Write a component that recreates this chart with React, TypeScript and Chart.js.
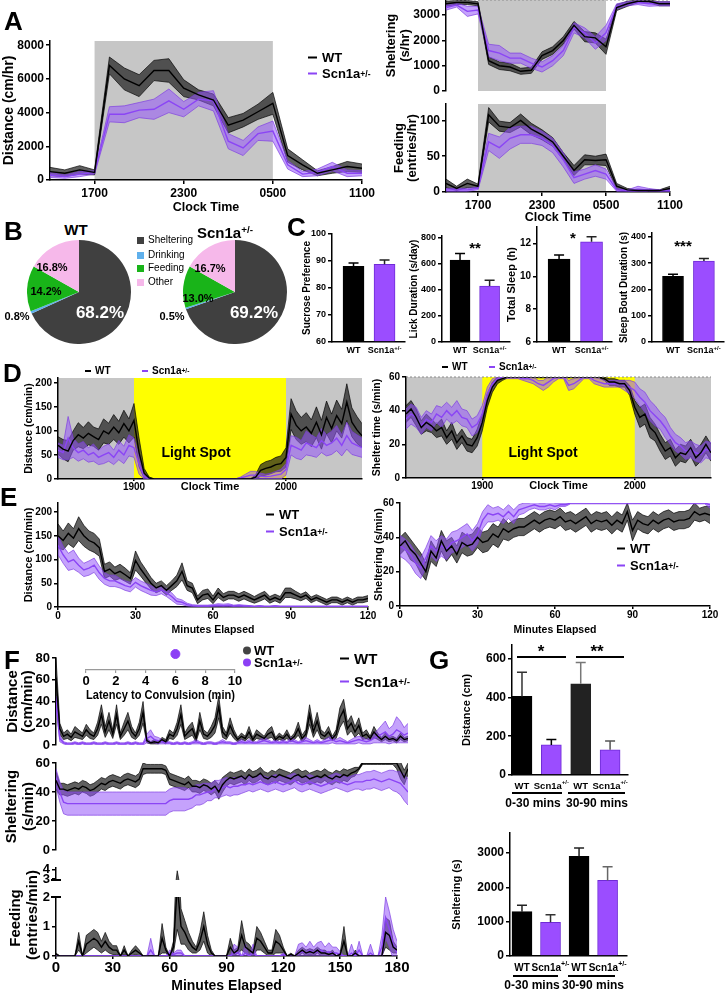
import React, { useEffect, useRef } from 'react';
import { Chart, registerables } from 'chart.js';

Chart.register(...registerables);

const FF = "'Liberation Sans', Arial, Helvetica, sans-serif";

// ================= DATA =================
// Panel A (hourly, clock hour 14 = 1400 ... 35 = 1100 next day)
const clockHours = [14, 15, 16, 17, 18, 19, 20, 21, 22, 23, 24, 25, 26, 27, 28, 29, 30, 31, 32, 33, 34, 35];
const clockTicks = [17, 23, 29, 35];
const clockLabels = ['1700', '2300', '0500', '1100'];
const darkPhase = [17, 29];
const distWT = [500, 400, 600, 450, 6800, 6000, 5600, 6500, 6500, 5450, 5050, 4750, 3250, 3550, 4050, 4550, 1450, 900, 400, 600, 800, 700];
const distWTSem = [250, 200, 250, 150, 500, 650, 650, 600, 700, 500, 300, 350, 450, 400, 450, 650, 400, 300, 150, 200, 300, 250];
const distScn = [300, 200, 350, 450, 3900, 3900, 4150, 4200, 4700, 4200, 4800, 4700, 2300, 1900, 2750, 2900, 900, 350, 450, 800, 400, 400];
const distScnSem = [150, 100, 150, 100, 450, 500, 450, 600, 700, 450, 400, 600, 450, 450, 400, 600, 250, 150, 200, 250, 200, 150];
const shWT = [3450, 3500, 3500, 3450, 1200, 1000, 950, 780, 820, 1400, 1600, 2000, 2600, 2150, 2100, 1750, 3300, 3450, 3550, 3550, 3450, 3450];
const shWTSem = [100, 80, 80, 80, 150, 150, 150, 120, 120, 150, 150, 150, 150, 200, 200, 300, 120, 100, 60, 60, 80, 80];
const shScn = [3300, 3400, 3150, 3200, 1600, 1500, 1300, 1300, 1100, 950, 1200, 1600, 2500, 2300, 1900, 2300, 3350, 3450, 3500, 3450, 3450, 3450];
const shScnSem = [100, 80, 200, 150, 250, 300, 200, 200, 200, 200, 200, 200, 200, 200, 250, 300, 100, 80, 80, 100, 80, 80];
const feedWT = [12, 5, 12, 8, 108, 92, 90, 100, 88, 80, 70, 50, 30, 45, 44, 45, 8, 3, 2, 2, 2, 5];
const feedWTSem = [6, 3, 6, 3, 10, 7, 7, 9, 8, 7, 6, 5, 7, 7, 6, 8, 4, 2, 1, 1, 1, 3];
const feedScn = [3, 3, 3, 5, 70, 62, 75, 80, 80, 75, 65, 45, 20, 25, 30, 25, 3, 2, 4, 3, 2, 2];
const feedScnSem = [2, 2, 2, 2, 12, 15, 15, 12, 12, 10, 10, 10, 8, 7, 8, 7, 2, 1, 4, 2, 1, 1];

// Panel B
const pieCats = ['Sheltering', 'Drinking', 'Feeding', 'Other'];
const pieWT = [68.2, 0.8, 14.2, 16.8];
const pieScn = [69.2, 0.5, 13.0, 16.7];
const pieColors = ['#404040', '#5fb0ec', '#19b419', '#f6b8ea'];

// Panel C
const groups2 = ['WT', 'Scn1a^+/-'];
const sucrose = [88, 88.8];
const sucroseSem = [1.3, 1.6];
const lick = [630, 430];
const lickSem = [50, 45];
const sleepH = [11.05, 12.1];
const sleepHSem = [0.25, 0.3];
const bout = [250, 308];
const boutSem = [8, 10];

// Panels D/E (minutes, 2-min bins)
const minD = Array.from({ length: 61 }, (_, i) => i * 2);
const lightSpot = [30, 90];
const dTicks = [30, 90];
const dLabels = ['1900', '2000'];
const dDistWT = [70, 62, 58, 80, 92, 85, 95, 88, 82, 100, 94, 108, 96, 115, 100, 122, 55, 12, 2, 0, 0, 0, 0, 0, 0, 0, 0, 0, 0, 0, 0, 0, 0, 0, 0, 0, 0, 0, 0, 4, 18, 22, 25, 30, 32, 45, 135, 112, 100, 108, 95, 118, 92, 128, 105, 132, 115, 160, 118, 102, 90];
const dDistWTSem = [18, 20, 22, 20, 25, 22, 24, 20, 22, 25, 22, 26, 24, 28, 25, 35, 30, 10, 2, 0, 0, 0, 0, 0, 0, 0, 0, 0, 0, 0, 0, 0, 0, 0, 0, 0, 0, 0, 0, 5, 12, 14, 14, 15, 16, 20, 32, 30, 28, 30, 28, 32, 30, 34, 30, 32, 30, 38, 30, 28, 25];
const dDistScn = [60, 55, 85, 65, 55, 60, 50, 55, 45, 50, 55, 45, 60, 50, 70, 65, 30, 5, 1, 0, 0, 0, 0, 0, 0, 0, 0, 0, 0, 0, 0, 0, 0, 0, 0, 0, 2, 5, 8, 8, 6, 5, 6, 8, 10, 20, 70, 65, 60, 75, 70, 65, 80, 70, 75, 85, 70, 90, 75, 70, 65];
const dDistScnSem = [15, 15, 45, 20, 18, 18, 15, 18, 15, 18, 18, 15, 20, 18, 22, 20, 20, 5, 1, 0, 0, 0, 0, 0, 0, 0, 0, 0, 0, 0, 0, 0, 0, 0, 0, 0, 2, 5, 8, 8, 6, 5, 6, 8, 10, 12, 20, 22, 20, 25, 22, 20, 25, 22, 24, 26, 22, 28, 24, 22, 20];
const dShWT = [38, 41, 36, 30, 33, 31, 28, 30, 24, 28, 21, 25, 20, 19, 24, 33, 46, 54, 58, 59, 60, 60, 60, 60, 60, 60, 60, 60, 60, 60, 60, 60, 60, 60, 60, 60, 60, 60, 60, 59, 57, 57, 56, 56, 52, 42, 36, 38, 30, 27, 21, 16, 18, 12, 15, 14, 18, 12, 15, 20, 15];
const dShWTSem = [5, 5, 5, 4, 5, 4, 4, 5, 4, 5, 4, 4, 4, 4, 5, 5, 4, 3, 2, 1, 0.5, 0.5, 0.5, 0.5, 0.5, 0.5, 0.5, 0.5, 0.5, 0.5, 0.5, 0.5, 0.5, 0.5, 0.5, 0.5, 0.5, 0.5, 0.5, 1, 2, 2, 2, 2, 3, 4, 6, 6, 6, 5, 5, 5, 5, 5, 5, 5, 5, 5, 5, 5, 5];
const dShScn = [35, 38, 36, 31, 35, 33, 38, 36, 40, 37, 40, 36, 35, 30, 32, 38, 50, 56, 59, 60, 60, 60, 60, 59, 59, 58, 56, 55, 57, 59, 60, 60, 55, 56, 58, 60, 60, 58, 57, 56, 56, 56, 56, 55, 54, 52, 48, 45, 40, 37, 34, 30, 25, 21, 19, 16, 17, 15, 14, 17, 16];
const dShScnSem = [6, 6, 6, 5, 5, 5, 5, 6, 5, 5, 6, 5, 5, 5, 5, 5, 4, 3, 1, 1, 1, 1, 1, 1, 2, 2, 2, 3, 3, 2, 1, 1, 3, 3, 2, 1, 1, 2, 2, 2, 2, 2, 2, 3, 4, 5, 5, 6, 6, 6, 5, 6, 5, 5, 5, 5, 5, 5, 5, 5, 5];

const eTicks = [0, 30, 60, 90, 120];
const eDistWT = [150, 140, 155, 145, 165, 150, 140, 135, 125, 75, 80, 70, 75, 68, 60, 98, 80, 65, 50, 40, 45, 35, 45, 55, 75, 45, 40, 15, 25, 28, 15, 30, 20, 25, 25, 20, 25, 20, 15, 20, 25, 15, 20, 15, 30, 30, 25, 20, 25, 15, 20, 15, 10, 15, 15, 10, 15, 10, 15, 15, 18];
const eDistWTSem = [25, 20, 22, 20, 25, 22, 20, 20, 18, 15, 15, 14, 15, 14, 12, 20, 15, 14, 12, 10, 10, 10, 10, 12, 18, 10, 10, 8, 10, 10, 8, 10, 8, 8, 8, 8, 8, 8, 7, 8, 8, 7, 7, 7, 10, 10, 8, 7, 7, 6, 6, 6, 6, 6, 6, 6, 6, 6, 6, 6, 6];
const eDistScn = [130, 110, 95, 100, 88, 78, 82, 88, 72, 60, 55, 55, 50, 45, 42, 52, 45, 40, 35, 32, 36, 30, 22, 12, 10, 5, 3, 2, 2, 2, 3, 4, 3, 4, 2, 3, 2, 2, 1, 2, 1, 1, 2, 1, 1, 1, 1, 1, 1, 1, 1, 1, 1, 1, 1, 1, 1, 1, 1, 1, 1];
const eDistScnSem = [20, 18, 18, 20, 15, 14, 15, 15, 14, 12, 12, 12, 10, 10, 10, 10, 10, 10, 10, 8, 8, 8, 8, 6, 5, 3, 2, 2, 2, 2, 2, 3, 3, 3, 2, 2, 2, 1, 1, 1, 1, 1, 1, 1, 1, 1, 1, 1, 1, 1, 1, 1, 1, 1, 1, 1, 1, 1, 1, 1, 1];
const eShWT = [35, 38, 33, 30, 25, 20, 32, 28, 38, 32, 35, 30, 37, 35, 36, 40, 37, 38, 42, 40, 45, 43, 45, 46, 46, 48, 50, 48, 50, 51, 50, 52, 49, 50, 48, 50, 52, 48, 50, 49, 50, 47, 50, 48, 55, 44, 50, 48, 47, 50, 48, 50, 51, 49, 50, 50, 51, 55, 53, 54, 53];
const eShWTSem = [5, 5, 6, 5, 6, 5, 6, 5, 6, 6, 5, 5, 6, 6, 6, 6, 6, 6, 6, 6, 6, 5, 5, 5, 5, 5, 5, 5, 5, 5, 5, 5, 5, 5, 5, 5, 5, 5, 5, 5, 5, 5, 5, 5, 5, 6, 5, 5, 5, 5, 5, 5, 5, 5, 5, 5, 5, 5, 4, 4, 5];
const eShScn = [35, 33, 30, 25, 22, 28, 35, 32, 35, 33, 37, 38, 40, 42, 38, 42, 50, 54, 53, 54, 52, 55, 52, 56, 57, 58, 59, 58, 58, 59, 58, 59, 59, 60, 60, 60, 60, 60, 60, 60, 60, 60, 60, 60, 60, 60, 60, 60, 60, 60, 60, 60, 60, 60, 60, 60, 60, 60, 60, 60, 59];
const eShScnSem = [6, 6, 6, 6, 6, 6, 6, 6, 6, 6, 6, 6, 6, 6, 6, 6, 5, 5, 4, 4, 4, 4, 4, 3, 3, 2, 2, 2, 2, 2, 2, 1, 1, 0.5, 0.5, 0.5, 0.5, 0.5, 0.5, 0.5, 0.5, 0.5, 0.5, 0.5, 0.5, 0.5, 0.5, 0.5, 0.5, 0.5, 0.5, 0.5, 0.5, 0.5, 0.5, 0.5, 0.5, 0.5, 0.5, 0.5, 2];

// Panel F (minutes, 2-min bins)
const minF = Array.from({ length: 94 }, (_, i) => i * 2);
const minFeed = Array.from({ length: 91 }, (_, i) => i * 2);
const fTicks = [0, 30, 60, 90, 120, 150, 180];
const fDistWT = [62, 15, 8, 10, 7, 12, 10, 8, 14, 10, 8, 15, 28, 12, 22, 10, 28, 8, 15, 22, 12, 8, 15, 30, 4, 2, 3, 2, 5, 3, 10, 8, 15, 28, 8, 12, 15, 6, 22, 10, 8, 12, 18, 35, 12, 8, 18, 10, 5, 8, 6, 12, 5, 10, 8, 6, 10, 12, 5, 8, 6, 10, 5, 8, 15, 6, 10, 28, 12, 22, 10, 8, 12, 6, 10, 25, 32, 15, 20, 12, 18, 8, 10, 6, 12, 8, 5, 8, 5, 6, 4, 8, 5, 6];
const fDistWTSem = [18, 5, 3, 4, 3, 5, 4, 3, 5, 4, 3, 6, 9, 5, 8, 4, 9, 3, 6, 8, 5, 3, 6, 10, 2, 1, 2, 1, 2, 2, 4, 3, 6, 9, 3, 5, 6, 3, 8, 4, 3, 5, 7, 10, 5, 3, 7, 4, 2, 3, 2, 5, 2, 4, 3, 2, 4, 5, 2, 3, 2, 4, 2, 3, 6, 3, 4, 9, 5, 8, 4, 3, 5, 2, 4, 9, 10, 6, 7, 5, 7, 3, 4, 2, 5, 3, 2, 3, 2, 2, 2, 3, 2, 2];
const fDistScn = [40, 6, 2, 1, 1, 2, 1, 2, 1, 1, 2, 1, 1, 2, 1, 1, 2, 1, 1, 2, 1, 2, 1, 1, 6, 8, 5, 4, 3, 2, 2, 1, 2, 1, 2, 1, 2, 3, 2, 1, 2, 2, 1, 2, 3, 2, 2, 1, 2, 3, 2, 3, 2, 2, 3, 4, 3, 2, 3, 2, 3, 2, 4, 3, 2, 3, 4, 3, 2, 3, 2, 3, 4, 5, 3, 4, 3, 2, 3, 4, 5, 4, 3, 4, 6, 8, 10, 12, 8, 10, 14, 12, 9, 11];
const fDistScnSem = [5, 3, 1, 1, 1, 1, 1, 1, 1, 1, 1, 1, 1, 1, 1, 1, 1, 1, 1, 1, 1, 1, 1, 1, 4, 6, 3, 3, 2, 1, 1, 1, 1, 1, 1, 1, 1, 2, 1, 1, 1, 1, 1, 1, 2, 1, 1, 1, 1, 2, 1, 2, 1, 1, 2, 3, 2, 1, 2, 1, 2, 1, 3, 2, 1, 2, 3, 2, 1, 2, 1, 2, 3, 3, 2, 3, 2, 1, 2, 3, 3, 3, 2, 3, 4, 6, 8, 10, 7, 8, 12, 10, 7, 9];
const fShWT = [48, 42, 42, 41, 42, 43, 42, 44, 43, 41, 42, 44, 46, 45, 47, 48, 47, 46, 48, 49, 48, 47, 49, 56, 56, 56, 56, 56, 56, 55, 49, 48, 47, 46, 45, 47, 44, 44, 43, 45, 44, 42, 44, 40, 45, 48, 50, 49, 50, 51, 49, 52, 50, 51, 53, 50, 49, 51, 50, 52, 51, 50, 49, 51, 52, 50, 51, 49, 50, 51, 50, 52, 50, 49, 51, 50, 52, 51, 53, 54, 56, 60, 60, 60, 60, 60, 60, 60, 60, 60, 60, 55, 50, 56];
const fShWTSem = [6, 4, 4, 4, 4, 4, 4, 4, 4, 4, 4, 4, 4, 4, 4, 4, 4, 4, 4, 4, 4, 4, 4, 4, 3, 3, 3, 3, 3, 3, 4, 4, 4, 4, 4, 4, 4, 4, 4, 4, 4, 4, 4, 5, 5, 4, 4, 4, 4, 4, 4, 4, 4, 4, 4, 4, 4, 4, 4, 4, 4, 4, 4, 4, 4, 4, 4, 4, 4, 4, 4, 4, 4, 4, 4, 4, 4, 4, 3, 3, 1, 1, 1, 1, 1, 1, 1, 1, 1, 1, 4, 6, 5, 4];
const fShScn = [50, 40, 33, 32, 32, 32, 32, 32, 32, 32, 32, 32, 32, 32, 32, 32, 32, 32, 32, 32, 32, 32, 32, 32, 32, 32, 32, 32, 32, 32, 34, 35, 35, 35, 35, 35, 36, 38, 38, 39, 40, 40, 42, 42, 43, 44, 43, 44, 44, 45, 45, 46, 45, 46, 47, 46, 45, 46, 47, 46, 45, 46, 47, 48, 46, 45, 46, 47, 46, 45, 44, 45, 46, 47, 48, 47, 46, 45, 46, 47, 47, 47, 48, 48, 49, 48, 47, 48, 49, 48, 47, 46, 43, 40];
const fShScnSem = [6, 7, 8, 8, 8, 8, 8, 8, 8, 8, 8, 8, 8, 8, 8, 8, 8, 8, 8, 8, 8, 8, 8, 8, 8, 8, 8, 8, 8, 8, 8, 8, 8, 8, 8, 7, 7, 7, 7, 7, 6, 6, 6, 6, 6, 6, 6, 6, 6, 6, 5, 5, 5, 5, 5, 5, 5, 5, 5, 5, 5, 5, 5, 5, 5, 5, 5, 5, 5, 5, 5, 5, 5, 5, 5, 5, 5, 5, 5, 5, 5, 6, 6, 6, 6, 6, 6, 6, 6, 7, 7, 8, 9, 9];
const fFeedWT = [0.05, 0, 0, 0, 0, 0, 0.5, 0, 0.4, 0.5, 0.6, 0.5, 0.3, 0.5, 0.3, 0.2, 0.2, 0, 0.2, 0, 0.1, 0.2, 0.1, 0, 0, 0, 0, 0, 0.6, 0.2, 0, 0.3, 2.4, 1.0, 0.8, 0.5, 0.3, 0.2, 0.5, 1.0, 0.4, 0.1, 0, 0, 0, 0, 0.3, 0.1, 0.2, 0.7, 0.3, 0.2, 0.1, 0.6, 0.5, 0.3, 0.1, 0.1, 0.5, 0.4, 0.2, 0, 0.05, 0, 0.1, 0.2, 0.1, 0.15, 0.1, 0.2, 0.1, 0.1, 0.05, 0.1, 0, 0.05, 0.5, 0, 0, 0.1, 0, 0, 0, 0, 0, 0, 0, 0.8, 0.7, 0.3, 0.2];
const fFeedWTSem = [0.05, 0, 0, 0, 0, 0, 0.3, 0, 0.3, 0.3, 0.3, 0.3, 0.2, 0.3, 0.2, 0.15, 0.15, 0, 0.15, 0, 0.1, 0.15, 0.1, 0, 0, 0, 0, 0, 0.5, 0.1, 0, 0.2, 1.5, 0.6, 0.4, 0.3, 0.2, 0.1, 0.3, 0.5, 0.3, 0.1, 0, 0, 0, 0, 0.3, 0.1, 0.1, 0.5, 0.2, 0.2, 0.1, 0.4, 0.3, 0.2, 0.1, 0.1, 0.4, 0.3, 0.1, 0, 0.05, 0, 0.1, 0.1, 0.1, 0.1, 0.1, 0.1, 0.1, 0.1, 0.05, 0.1, 0, 0.05, 0.5, 0, 0, 0.1, 0, 0, 0, 0, 0, 0, 0, 0.5, 0.5, 0.2, 0.1];
const fFeedScn = [0, 0, 0, 0, 0, 0, 0, 0, 0, 0, 0, 0, 0, 0, 0, 0, 0, 0, 0, 0, 0, 0, 0, 0, 0, 0.2, 0, 0, 0, 0, 0.1, 0.05, 0.1, 0.1, 0, 0, 0, 0, 0, 0, 0, 0, 0, 0, 0, 0, 0, 0.1, 0.1, 0, 0.1, 0, 0.1, 0, 0, 0, 0, 0, 0, 0, 0.05, 0, 0, 0, 0.1, 0.15, 0.1, 0.2, 0.1, 0.15, 0.2, 0.1, 0.15, 0.1, 0.1, 0.05, 0, 0, 0.1, 0, 0.2, 0, 0, 0.1, 0, 0, 0.3, 1.3, 0.9, 0.4, 0.1];
const fFeedScnSem = [0, 0, 0, 0, 0, 0, 0, 0, 0, 0, 0, 0, 0, 0, 0, 0, 0, 0, 0, 0, 0, 0, 0, 0, 0, 0.4, 0, 0, 0, 0, 0.1, 0.05, 0.1, 0.1, 0, 0, 0, 0, 0, 0, 0, 0, 0, 0, 0, 0, 0, 0.3, 0.2, 0, 0.3, 0, 0.3, 0, 0, 0, 0, 0, 0, 0, 0.05, 0, 0, 0, 0.3, 0.3, 0.2, 0.3, 0.2, 0.3, 0.3, 0.2, 0.3, 0.2, 0.2, 0.1, 0, 0, 0.3, 0, 0.3, 0, 0, 0.3, 0, 0, 0.4, 0.7, 0.6, 0.5, 0.4];
const latencyScn = [6.0];
const latencyTicks = [0, 2, 4, 6, 8, 10];

// Panel G
const groups4 = ['WT', 'Scn1a^+/-', 'WT', 'Scn1a^+/-'];
const gDist = [405, 155, 470, 130];
const gDistSem = [125, 28, 110, 45];
const gShel = [1290, 980, 2900, 2200];
const gShelSem = [190, 220, 240, 400];

// ================= STYLES =================
const GREY_BG = '#c6c6c6';
const YELLOW = '#ffff00';
const PURPLE = '#9b4dff';
const PURPLE_EDGE = '#6f2bd6';
const WT_S = { band: 'rgba(35,35,35,0.72)', edge: 'rgba(0,0,0,0.85)', line: '#000', lw: 1.4 };
const SC_S = { band: 'rgba(150,85,250,0.55)', edge: 'rgba(125,60,225,0.85)', line: '#8b45f5', lw: 1.4 };

// ================= HELPERS =================
function band(xs: number[], mean: number[], sem: number[], s: any, bandOrder: number, lineOrder: number) {
  const pts = (f: (i: number) => number) => xs.map((x, i) => ({ x, y: f(i) }));
  return [
    { data: pts(i => mean[i] + sem[i]), borderColor: s.edge, borderWidth: 0.8, pointRadius: 0, fill: false, order: bandOrder, tension: 0 },
    { data: pts(i => mean[i] - sem[i]), borderColor: s.edge, borderWidth: 0.8, pointRadius: 0, fill: '-1', backgroundColor: s.band, order: bandOrder, tension: 0 },
    { data: pts(i => mean[i]), borderColor: s.line, borderWidth: s.lw, pointRadius: 0, fill: false, order: lineOrder, tension: 0 },
  ];
}

function axis(o: any) {
  return {
    type: 'linear',
    display: o.display ?? true,
    min: o.min,
    max: o.max,
    afterBuildTicks: (s: any) => { s.ticks = (o.ticks || []).map((v: number) => ({ value: v })); },
    afterFit: (s: any) => { if (o.size != null) { if (s.isHorizontal()) s.height = o.size; else s.width = o.size; } },
    grid: { drawOnChartArea: false, drawTicks: true, tickLength: o.tl ?? 4, color: o.color ?? '#000', lineWidth: o.lw ?? 1.5 },
    border: { display: true, color: o.color ?? '#000', width: o.lw ?? 1.5 },
    ticks: {
      display: o.showLabels ?? true, autoSkip: false, maxRotation: 0, padding: o.tp ?? 2, color: '#000',
      font: { family: FF, size: o.fs ?? 10, weight: 'bold' },
      callback: (v: any, i: number) => (o.labels ? o.labels[i] : String(v)),
    },
    title: o.title
      ? { display: true, text: o.title, color: '#000', padding: 0, font: { family: FF, size: o.ts ?? 11, weight: 'bold', lineHeight: o.tlh ?? 1.2 } }
      : { display: false },
  };
}

const bgPlugin = {
  id: 'bg',
  beforeDraw(chart: any, _a: any, o: any) {
    const { ctx, chartArea: ca, scales } = chart;
    (o.regions || []).forEach((r: any) => {
      const x0 = r.from == null ? ca.left : scales.x.getPixelForValue(r.from);
      const x1 = r.to == null ? ca.right : scales.x.getPixelForValue(r.to);
      ctx.save();
      ctx.fillStyle = r.color;
      ctx.fillRect(x0, ca.top, x1 - x0, ca.bottom - ca.top);
      ctx.restore();
    });
  },
  afterDatasetsDraw(chart: any, _a: any, o: any) {
    if (o.hline == null) return;
    const { ctx, chartArea: ca, scales } = chart;
    const y = scales.y.getPixelForValue(o.hline);
    ctx.save();
    ctx.strokeStyle = '#8a8a8a';
    ctx.lineWidth = 1;
    ctx.setLineDash([2, 2]);
    ctx.beginPath();
    ctx.moveTo(ca.left, y);
    ctx.lineTo(ca.right, y);
    ctx.stroke();
    ctx.restore();
  },
};

function drawRich(ctx: any, text: string, cx: number, cy: number, fs: number) {
  const [main, sup] = text.split('^');
  ctx.save();
  ctx.fillStyle = '#000';
  ctx.textBaseline = 'middle';
  ctx.textAlign = 'left';
  const f1 = `bold ${fs}px ${FF}`;
  const f2 = `bold ${Math.round(fs * 0.68)}px ${FF}`;
  ctx.font = f1;
  const w1 = ctx.measureText(main).width;
  ctx.font = f2;
  const w2 = sup ? ctx.measureText(sup).width : 0;
  const x = cx - (w1 + w2) / 2;
  ctx.font = f1;
  ctx.fillText(main, x, cy);
  if (sup) { ctx.font = f2; ctx.fillText(sup, x + w1, cy - fs * 0.35); }
  ctx.restore();
}

const errPlugin = {
  id: 'err',
  afterDatasetsDraw(chart: any, _a: any, o: any) {
    const meta = chart.getDatasetMeta(0);
    const { ctx, scales } = chart;
    meta.data.forEach((bar: any, i: number) => {
      const top = scales.y.getPixelForValue(o.values[i] + o.sems[i]);
      ctx.save();
      ctx.strokeStyle = o.colors[i];
      ctx.lineWidth = 1.5;
      ctx.beginPath();
      ctx.moveTo(bar.x, bar.y);
      ctx.lineTo(bar.x, top);
      ctx.moveTo(bar.x - o.cap, top);
      ctx.lineTo(bar.x + o.cap, top);
      ctx.stroke();
      ctx.restore();
    });
  },
};

const xlabPlugin = {
  id: 'xlab',
  afterDraw(chart: any, _a: any, o: any) {
    const { ctx, chartArea, scales } = chart;
    (o.labels || []).forEach((t: string, i: number) => drawRich(ctx, t, scales.x.getPixelForValue(i + 1), chartArea.bottom + o.dy, o.fs));
  },
};

function barCfg(o: any) {
  return {
    type: 'bar',
    data: {
      datasets: [{
        data: o.values.map((v: number, i: number) => ({ x: i + 1, y: v })),
        backgroundColor: o.colors, borderColor: o.borders, borderWidth: 1, barThickness: o.thick, base: o.yMin,
      }],
    },
    options: {
      scales: {
        x: axis({ min: o.xMin, max: o.xMax, ticks: [], size: o.xh, showLabels: false, tl: 0 }),
        y: axis({ min: o.yMin, max: o.yMax, ticks: o.yTicks, size: o.yw, fs: o.fs, title: o.title, ts: o.ts }),
      },
      plugins: {
        err: { values: o.values, sems: o.sems, colors: o.errColors, cap: o.cap ?? 5 },
        xlab: { labels: o.labels, dy: o.labelDy, fs: o.labelFs },
      },
    },
    plugins: [errPlugin, xlabPlugin],
  };
}

type Geo = { area: { x0: number; y0: number; x1: number; y1: number }; yw: number; xh: number; pt?: number; pr?: number; pb?: number; pl?: number };

function ChartBox({ geo, make }: { geo: Geo; make: () => any }) {
  const ref = useRef<HTMLCanvasElement>(null);
  const pt = geo.pt ?? 12, pr = geo.pr ?? 6, pb = geo.pb ?? 0, pl = geo.pl ?? 0;
  const w = pl + geo.yw + (geo.area.x1 - geo.area.x0) + pr;
  const h = pt + (geo.area.y1 - geo.area.y0) + geo.xh + pb;
  const left = geo.area.x0 - geo.yw - pl;
  const top = geo.area.y0 - pt;
  useEffect(() => {
    const cfg = make();
    cfg.options = cfg.options || {};
    cfg.options.responsive = false;
    cfg.options.maintainAspectRatio = false;
    cfg.options.animation = false;
    cfg.options.events = [];
    cfg.options.layout = { padding: { left: pl, top: pt, right: pr, bottom: pb } };
    cfg.options.plugins = { legend: { display: false }, tooltip: { enabled: false }, ...(cfg.options.plugins || {}) };
    const c = new Chart(ref.current as HTMLCanvasElement, cfg);
    return () => c.destroy();
  }, []);
  return <canvas ref={ref} width={w} height={h} style={{ position: 'absolute', left, top, width: w, height: h }} />;
}

function lineCfg(datasets: any[], x: any, y: any, bg: any) {
  return { type: 'line', data: { datasets }, options: { scales: { x: axis(x), y: axis(y) }, plugins: { bg } }, plugins: [bgPlugin] };
}

// ---------- HTML text helpers ----------
const Sup = ({ t }: { t: string }) => <sup style={{ fontSize: '66%', lineHeight: 0, verticalAlign: '0.45em' }}>{t}</sup>;
const Scn = () => <>Scn1a<Sup t="+/-" /></>;

const Txt = ({ x, y, s, children, a = 'c', color = '#000', rot }: any) => (
  <div style={{
    position: 'absolute', left: x, top: y,
    transform: `translate(${a === 'c' ? '-50%' : a === 'r' ? '-100%' : '0'},-50%)${rot ? ` rotate(${rot}deg)` : ''}`,
    fontFamily: FF, fontWeight: 'bold', fontSize: s, color, whiteSpace: 'nowrap', lineHeight: 1,
  }}>{children}</div>
);

const LegLine = ({ x, y, color, s, len = 8, children }: any) => (
  <div style={{ position: 'absolute', left: x, top: y, transform: 'translateY(-50%)', display: 'flex', alignItems: 'center', fontFamily: FF, fontWeight: 'bold', fontSize: s, whiteSpace: 'nowrap', lineHeight: 1 }}>
    <span style={{ display: 'inline-block', width: len, height: 2, background: color, marginRight: Math.round(s * 0.35) }} />{children}
  </div>
);

const LegDot = ({ x, y, color, s, children }: any) => (
  <div style={{ position: 'absolute', left: x, top: y, transform: 'translateY(-50%)', display: 'flex', alignItems: 'center', fontFamily: FF, fontWeight: 'bold', fontSize: s, whiteSpace: 'nowrap', lineHeight: 1 }}>
    <span style={{ display: 'inline-block', width: 8, height: 8, borderRadius: 4, background: color, marginRight: 3 }} />{children}
  </div>
);

const LegBox = ({ x, y, color, s, children }: any) => (
  <div style={{ position: 'absolute', left: x, top: y, transform: 'translateY(-50%)', display: 'flex', alignItems: 'center', fontFamily: FF, fontSize: s, whiteSpace: 'nowrap', lineHeight: 1 }}>
    <span style={{ display: 'inline-block', width: 7, height: 7, background: color, marginRight: 4 }} />{children}
  </div>
);

const HLine = ({ x0, x1, y, w = 1.5, color = '#000' }: any) => (
  <div style={{ position: 'absolute', left: x0, top: y - w / 2, width: x1 - x0, height: w, background: color }} />
);

// ================= APP =================
export default function App() {
  const aTwoSeries = (xs: number[], m1: number[], s1: number[], m2: number[], s2: number[]) => [
    ...band(xs, m1, s1, WT_S, 40, 10),
    ...band(xs, m2, s2, SC_S, 30, 20),
  ];

  return (
    <div style={{ position: 'absolute', left: 0, top: 0, width: 726, height: 995, background: '#fff', overflow: 'hidden' }}>
      {/* ---------- A ---------- */}
      <ChartBox geo={{ area: { x0: 50, y0: 41, x1: 362, y1: 180 }, yw: 49, xh: 35, pr: 18 }} make={() => lineCfg(
        aTwoSeries(clockHours, distWT, distWTSem, distScn, distScnSem),
        { min: 14, max: 35, ticks: clockTicks, labels: clockLabels, size: 35, fs: 12, title: 'Clock Time', ts: 12.5 },
        { min: 0, max: 8250, ticks: [0, 2000, 4000, 6000, 8000], size: 49, fs: 12, title: 'Distance (cm/hr)', ts: 14 },
        { regions: [{ from: darkPhase[0], to: darkPhase[1], color: GREY_BG }] })} />
      <ChartBox geo={{ area: { x0: 446, y0: 0, x1: 670, y1: 91 }, yw: 62, xh: 0, pb: 11, pr: 18 }} make={() => lineCfg(
        aTwoSeries(clockHours, shWT, shWTSem, shScn, shScnSem),
        { display: false, min: 14, max: 35, ticks: [] },
        { min: 0, max: 3600, ticks: [0, 1000, 2000, 3000], size: 62, fs: 12, title: ['Sheltering', '(s/hr)'], ts: 13, tlh: 1.1 },
        { regions: [{ from: darkPhase[0], to: darkPhase[1], color: GREY_BG }], hline: 3600 })} />
      <ChartBox geo={{ area: { x0: 446, y0: 104, x1: 670, y1: 192 }, yw: 53, xh: 33, pr: 18 }} make={() => lineCfg(
        aTwoSeries(clockHours, feedWT, feedWTSem, feedScn, feedScnSem),
        { min: 14, max: 35, ticks: clockTicks, labels: clockLabels, size: 33, fs: 12, title: 'Clock Time', ts: 12.5 },
        { min: 0, max: 123, ticks: [0, 50, 100], size: 53, fs: 12, title: ['Feeding', '(entries/hr)'], ts: 13, tlh: 1.0 },
        { regions: [{ from: darkPhase[0], to: darkPhase[1], color: GREY_BG }] })} />
      <Txt x={4} y={21} s={26} a="l">A</Txt>
      <LegLine x={308} y={57} color="#000" s={13} len={9}>WT</LegLine>
      <LegLine x={308} y={73} color={SC_S.line} s={13} len={9}><Scn /></LegLine>

      {/* ---------- B ---------- */}
      {[{ vals: pieWT, x0: 27 }, { vals: pieScn, x0: 183 }].map((p, k) => (
        <ChartBox key={k} geo={{ area: { x0: p.x0, y0: 240, x1: p.x0 + 104, y1: 344 }, yw: 0, xh: 0, pt: 0, pr: 0 }} make={() => ({
          type: 'pie',
          data: { labels: pieCats, datasets: [{ data: p.vals, backgroundColor: pieColors, borderWidth: 0, hoverOffset: 0 }] },
          options: {},
        })} />
      ))}
      <Txt x={4} y={231} s={26} a="l">B</Txt>
      <Txt x={76} y={229} s={15}>WT</Txt>
      <Txt x={225} y={232} s={15}><Scn /></Txt>
      {pieCats.map((c, i) => (
        <LegBox key={c} x={137} y={[240, 255, 268, 282][i]} color={pieColors[i]} s={10}>{c}</LegBox>
      ))}
      <Txt x={100} y={312} s={17} color="#fff">{pieWT[0].toFixed(1)}%</Txt>
      <Txt x={52} y={267} s={11}>{pieWT[3].toFixed(1)}%</Txt>
      <Txt x={46} y={291} s={11}>{pieWT[2].toFixed(1)}%</Txt>
      <Txt x={17} y={316} s={11}>{pieWT[1].toFixed(1)}%</Txt>
      <Txt x={254} y={312} s={17} color="#fff">{pieScn[0].toFixed(1)}%</Txt>
      <Txt x={210} y={268} s={11}>{pieScn[3].toFixed(1)}%</Txt>
      <Txt x={198} y={298} s={11}>{pieScn[2].toFixed(1)}%</Txt>
      <Txt x={172} y={316} s={11}>{pieScn[1].toFixed(1)}%</Txt>

      {/* ---------- C ---------- */}
      <Txt x={287} y={227} s={26} a="l">C</Txt>
      <ChartBox geo={{ area: { x0: 332, y0: 234, x1: 405, y1: 342 }, yw: 31, xh: 16, pr: 2 }} make={() => barCfg({
        values: sucrose, sems: sucroseSem, labels: groups2, colors: ['#000', PURPLE], borders: ['#000', PURPLE_EDGE], errColors: ['#000', '#222'],
        xMin: 0.306, xMax: 2.66, thick: 21, yMin: 60, yMax: 100, yTicks: [60, 70, 80, 90, 100], yw: 31, fs: 9, title: 'Sucrose Preference', ts: 10, xh: 16, labelDy: 9, labelFs: 9,
      })} />
      <ChartBox geo={{ area: { x0: 442, y0: 236, x1: 510, y1: 342 }, yw: 34, xh: 16, pr: 2 }} make={() => barCfg({
        values: lick, sems: lickSem, labels: groups2, colors: ['#000', PURPLE], borders: ['#000', PURPLE_EDGE], errColors: ['#000', '#222'],
        xMin: 0.39, xMax: 2.69, thick: 20, yMin: 0, yMax: 815, yTicks: [0, 200, 400, 600, 800], yw: 34, fs: 9, title: 'Lick Duration (s/day)', ts: 10, xh: 16, labelDy: 9, labelFs: 9,
      })} />
      <ChartBox geo={{ area: { x0: 537, y0: 227, x1: 612, y1: 342 }, yw: 32, xh: 16, pr: 2 }} make={() => barCfg({
        values: sleepH, sems: sleepHSem, labels: groups2, colors: ['#000', PURPLE], borders: ['#000', PURPLE_EDGE], errColors: ['#000', '#222'],
        xMin: 0.32, xMax: 2.63, thick: 22, yMin: 6, yMax: 13, yTicks: [6, 8, 10, 12], yw: 32, fs: 10, title: 'Total Sleep (h)', ts: 11, xh: 16, labelDy: 9, labelFs: 9,
      })} />
      <ChartBox geo={{ area: { x0: 652, y0: 233, x1: 724, y1: 342 }, yw: 34, xh: 16, pr: 2 }} make={() => barCfg({
        values: bout, sems: boutSem, labels: groups2, colors: ['#000', PURPLE], borders: ['#000', PURPLE_EDGE], errColors: ['#000', '#222'],
        xMin: 0.32, xMax: 2.65, thick: 21, yMin: 0, yMax: 415, yTicks: [0, 100, 200, 300, 400], yw: 34, fs: 9, title: 'Sleep Bout Duration (s)', ts: 10, xh: 16, labelDy: 9, labelFs: 9,
      })} />
      <Txt x={475} y={247} s={15}>**</Txt>
      <Txt x={573} y={237} s={15}>*</Txt>
      <Txt x={683} y={245} s={15}>***</Txt>

      {/* ---------- D ---------- */}
      <Txt x={3} y={373} s={26} a="l">D</Txt>
      <ChartBox geo={{ area: { x0: 58, y0: 378, x1: 362, y1: 479 }, yw: 35, xh: 15, pr: 4 }} make={() => lineCfg(
        aTwoSeries(minD, dDistWT, dDistWTSem, dDistScn, dDistScnSem),
        { min: 0, max: 120, ticks: dTicks, labels: dLabels, size: 15, fs: 10, tl: 2, tp: 0, title: 'Clock Time', ts: 11 },
        { min: 0, max: 210, ticks: [0, 50, 100, 150, 200], size: 35, fs: 10, title: 'Distance (cm/min)', ts: 10.5 },
        { regions: [{ color: GREY_BG }, { from: lightSpot[0], to: lightSpot[1], color: YELLOW }] })} />
      <ChartBox geo={{ area: { x0: 406, y0: 377, x1: 711, y1: 478 }, yw: 35, xh: 15, pr: 6 }} make={() => lineCfg(
        aTwoSeries(minD, dShWT, dShWTSem, dShScn, dShScnSem),
        { min: 0, max: 120, ticks: dTicks, labels: dLabels, size: 15, fs: 10, tl: 2, tp: 0, title: 'Clock Time', ts: 11 },
        { min: 0, max: 60, ticks: [0, 20, 40, 60], size: 35, fs: 10, title: 'Shelter time (s/min)', ts: 10.5 },
        { regions: [{ color: GREY_BG }, { from: lightSpot[0], to: lightSpot[1], color: YELLOW }], hline: 60 })} />
      <LegLine x={85} y={371} color="#000" s={10} len={6}>WT</LegLine>
      <LegLine x={142} y={371} color={SC_S.line} s={10} len={6}><Scn /></LegLine>
      <LegLine x={442} y={367} color="#000" s={10} len={6}>WT</LegLine>
      <LegLine x={489} y={367} color={SC_S.line} s={10} len={6}><Scn /></LegLine>
      <Txt x={196} y={452} s={14}>Light Spot</Txt>
      <Txt x={543} y={452} s={14}>Light Spot</Txt>

      {/* ---------- E ---------- */}
      <Txt x={0} y={497} s={26} a="l">E</Txt>
      <ChartBox geo={{ area: { x0: 58, y0: 503, x1: 368, y1: 607 }, yw: 36, xh: 29, pr: 12 }} make={() => lineCfg(
        aTwoSeries(minD, eDistWT, eDistWTSem, eDistScn, eDistScnSem),
        { min: 0, max: 120, ticks: eTicks, size: 29, fs: 10, tl: 3, tp: 0, title: 'Minutes Elapsed', ts: 10.5 },
        { min: 0, max: 219, ticks: [0, 50, 100, 150, 200], size: 36, fs: 10, title: 'Distance (cm/min)', ts: 11 },
        {})} />
      <ChartBox geo={{ area: { x0: 400, y0: 503, x1: 710, y1: 606 }, yw: 28, xh: 30, pr: 12 }} make={() => lineCfg(
        aTwoSeries(minD, eShWT, eShWTSem, eShScn, eShScnSem),
        { min: 0, max: 120, ticks: eTicks, size: 30, fs: 10, tl: 3, tp: 0, title: 'Minutes Elapsed', ts: 10.5 },
        { min: 0, max: 60, ticks: [0, 20, 40, 60], size: 28, fs: 10, title: 'Sheltering (s/min)', ts: 11 },
        {})} />
      <LegLine x={266} y={514} color="#000" s={13} len={8}>WT</LegLine>
      <LegLine x={266} y={531} color={SC_S.line} s={13} len={8}><Scn /></LegLine>
      <LegLine x={617} y={548} color="#000" s={13} len={8}>WT</LegLine>
      <LegLine x={617} y={565} color={SC_S.line} s={13} len={8}><Scn /></LegLine>

      {/* ---------- F ---------- */}
      <Txt x={4} y={660} s={26} a="l">F</Txt>
      <ChartBox geo={{ area: { x0: 56, y0: 658, x1: 408, y1: 745 }, yw: 50, xh: 0, pb: 11, pr: 4 }} make={() => lineCfg(
        aTwoSeries(minF, fDistWT, fDistWTSem, fDistScn, fDistScnSem),
        { display: false, min: 0, max: 186, ticks: [] },
        { min: 0, max: 80, ticks: [0, 20, 40, 60, 80], size: 50, fs: 13, title: ['Distance', '(cm/min)'], ts: 15, tlh: 0.95 },
        {})} />
      <ChartBox geo={{ area: { x0: 56, y0: 763, x1: 408, y1: 850 }, yw: 52, xh: 0, pb: 11, pr: 4 }} make={() => lineCfg(
        aTwoSeries(minF, fShWT, fShWTSem, fShScn, fShScnSem),
        { display: false, min: 0, max: 186, ticks: [] },
        { min: 0, max: 60, ticks: [0, 20, 40, 60], size: 52, fs: 13, title: ['Sheltering', '(s/min)'], ts: 15, tlh: 1.1 },
        {})} />
      <ChartBox geo={{ area: { x0: 56, y0: 868, x1: 397, y1: 880 }, yw: 50, xh: 0, pb: 10, pt: 10, pr: 4 }} make={() => lineCfg(
        aTwoSeries(minFeed, fFeedWT, fFeedWTSem, fFeedScn, fFeedScnSem),
        { display: false, min: 0, max: 180, ticks: [] },
        { min: 2.9, max: 4.2, ticks: [3, 4], size: 50, fs: 13 },
        {})} />
      <ChartBox geo={{ area: { x0: 56, y0: 897, x1: 397, y1: 956 }, yw: 50, xh: 39, pr: 16 }} make={() => lineCfg(
        aTwoSeries(minFeed, fFeedWT, fFeedWTSem, fFeedScn, fFeedScnSem),
        { min: 0, max: 180, ticks: fTicks, size: 39, fs: 15, tl: 3, tp: 0, title: 'Minutes Elapsed', ts: 14 },
        { min: 0, max: 2, ticks: [0, 1, 2], size: 50, fs: 13 },
        {})} />
      <HLine x0={51} x1={61} y={880} w={1.5} />
      <HLine x0={51} x1={61} y={897} w={1.5} />
      <Txt x={14} y={918} s={15} rot={-90}>Feeding</Txt>
      <Txt x={31} y={915} s={15} rot={-90}>(entries/min)</Txt>
      <ChartBox geo={{ area: { x0: 86, y0: 646, x1: 235, y1: 670 }, yw: 0, xh: 33, pl: 10, pr: 10, pt: 8 }} make={() => ({
        type: 'scatter',
        data: { datasets: [{ data: latencyScn.map(v => ({ x: v, y: 0 })), backgroundColor: '#8c3ff5', borderColor: '#8c3ff5', pointRadius: 4.5 }] },
        options: {
          scales: {
            x: axis({ min: 0, max: 10, ticks: latencyTicks, size: 33, fs: 13, tl: 3, tp: 1, color: '#9a9a9a', lw: 1.2, title: 'Latency to Convulsion (min)', ts: 13 }),
            y: { display: false, min: -1, max: 0.5 },
          },
        },
      })} />
      <LegDot x={243} y={650} color="#444" s={13}>WT</LegDot>
      <LegDot x={243} y={662} color="#8c3ff5" s={13}><Scn /></LegDot>
      <LegLine x={340} y={658} color="#000" s={15} len={9}>WT</LegLine>
      <LegLine x={340} y={681} color={SC_S.line} s={15} len={9}><Scn /></LegLine>

      {/* ---------- G ---------- */}
      <Txt x={429} y={660} s={26} a="l">G</Txt>
      <ChartBox geo={{ area: { x0: 512, y0: 645, x1: 628, y1: 775 }, yw: 52, xh: 16, pr: 4 }} make={() => barCfg({
        values: gDist, sems: gDistSem, labels: groups4, colors: ['#000', PURPLE, '#222', PURPLE], borders: ['#000', PURPLE_EDGE, '#222', PURPLE_EDGE], errColors: ['#333', '#000', '#777', '#555'],
        xMin: 0.66, xMax: 4.61, thick: 20, yMin: 0, yMax: 670, yTicks: [0, 200, 400, 600], yw: 52, fs: 12, title: 'Distance (cm)', ts: 11, xh: 16, labelDy: 11, labelFs: 9.5,
      })} />
      <ChartBox geo={{ area: { x0: 510, y0: 833, x1: 627, y1: 956 }, yw: 60, xh: 16, pr: 4 }} make={() => barCfg({
        values: gShel, sems: gShelSem, labels: groups4, colors: ['#000', PURPLE, '#000', PURPLE], borders: ['#000', PURPLE_EDGE, '#000', PURPLE_EDGE], errColors: ['#222', '#333', '#222', '#666'],
        xMin: 0.58, xMax: 4.68, thick: 20, yMin: 0, yMax: 3580, yTicks: [0, 1000, 2000, 3000], yw: 60, fs: 12, title: 'Sheltering (s)', ts: 11, xh: 16, labelDy: 12, labelFs: 10,
      })} />
      <HLine x0={517} x1={566} y={657} w={1.5} />
      <HLine x0={576} x1={624} y={657} w={1.5} />
      <Txt x={541} y={651} s={17}>*</Txt>
      <Txt x={597} y={651} s={17}>**</Txt>
      <HLine x0={512} x1={562} y={793} w={1.2} />
      <HLine x0={568} x1={625} y={793} w={1.2} />
      <Txt x={533} y={803} s={12}>0-30 mins</Txt>
      <Txt x={597} y={803} s={12}>30-90 mins</Txt>
      <HLine x0={513} x1={558} y={976} w={1.2} />
      <HLine x0={568} x1={615} y={976} w={1.2} />
      <Txt x={532} y={985} s={12}>0-30 mins</Txt>
      <Txt x={593} y={985} s={12}>30-90 mins</Txt>
    </div>
  );
}
